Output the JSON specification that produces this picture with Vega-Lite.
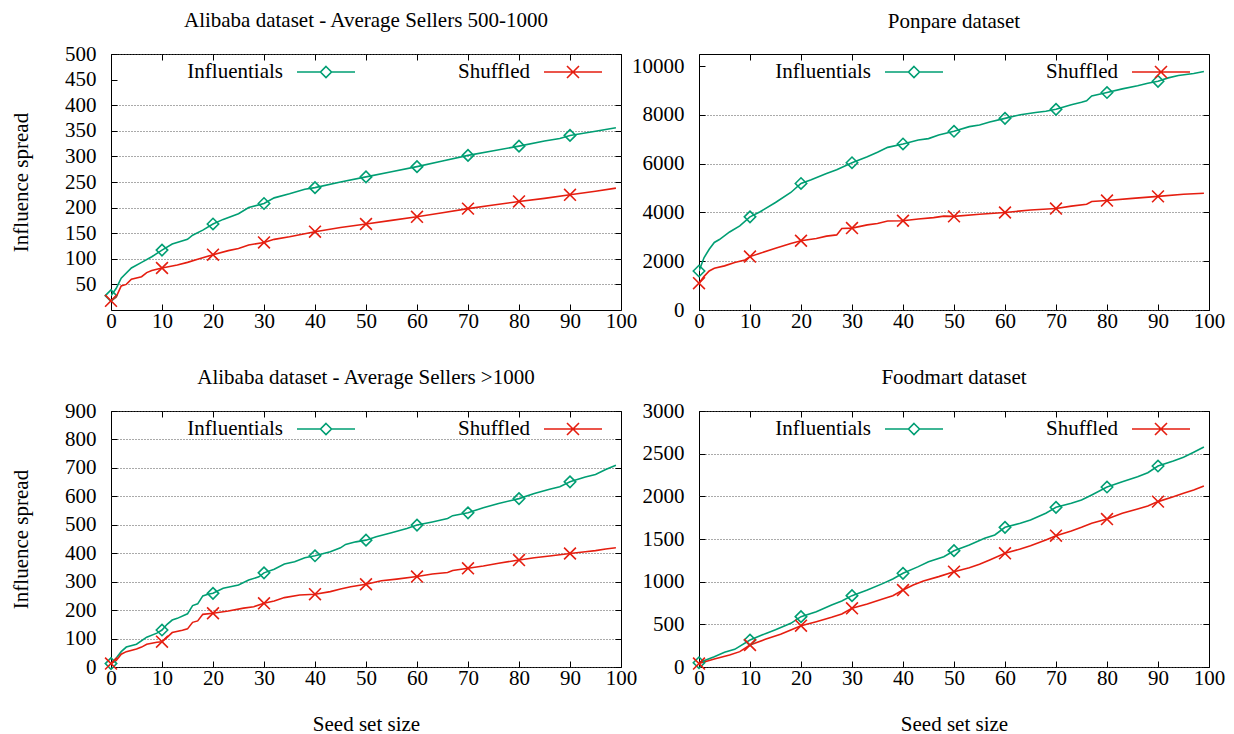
{
  "$schema": "https://vega.github.io/schema/vega-lite/v6.json",
  "padding": {"left": 10, "top": 9, "right": 5, "bottom": 2},
  "config": {
    "font": "Liberation Serif",
    "numberFormat": "d",
    "background": "white",
    "view": {"stroke": "black", "strokeWidth": 1},
    "title": {"font": "Liberation Serif", "fontSize": 21, "fontWeight": "normal", "color": "black", "anchor": "middle", "offset": 12},
    "axis": {"labelFont": "Liberation Serif", "labelFontSize": 21, "labelColor": "black", "titleFont": "Liberation Serif", "titleFontSize": 21, "titleFontWeight": "normal", "titleColor": "black", "domain": false, "tickColor": "black", "tickSize": -6, "tickWidth": 1, "gridColor": "#555555", "gridDash": [1, 2], "gridWidth": 1, "labelOverlap": false},
    "axisX": {"labelPadding": 6, "titlePadding": 25, "labelFlush": false, "grid": false},
    "axisY": {"labelPadding": 21, "titlePadding": 33},
    "legend": {"labelFont": "Liberation Serif", "labelFontSize": 21, "labelColor": "black", "symbolSize": 400, "symbolStrokeWidth": 1.6, "direction": "horizontal", "orient": "none", "legendX": 204, "legendY": 7, "labelAlign": "right", "labelOffset": -54, "columnPadding": 99, "padding": 0, "labelLimit": 300}
  },
  "datasets": {
    "A": [
      {"s": "Influentials", "x": 0, "y": 28}, {"s": "Influentials", "x": 1, "y": 42}, {"s": "Influentials", "x": 2, "y": 62}, {"s": "Influentials", "x": 4, "y": 82}, {"s": "Influentials", "x": 6, "y": 93}, {"s": "Influentials", "x": 8, "y": 104}, {"s": "Influentials", "x": 10, "y": 117}, {"s": "Influentials", "x": 12, "y": 129}, {"s": "Influentials", "x": 15, "y": 138}, {"s": "Influentials", "x": 16, "y": 146}, {"s": "Influentials", "x": 18, "y": 156}, {"s": "Influentials", "x": 20, "y": 168}, {"s": "Influentials", "x": 22, "y": 177}, {"s": "Influentials", "x": 25, "y": 188}, {"s": "Influentials", "x": 27, "y": 200}, {"s": "Influentials", "x": 30, "y": 208}, {"s": "Influentials", "x": 32, "y": 219}, {"s": "Influentials", "x": 35, "y": 227}, {"s": "Influentials", "x": 38, "y": 236}, {"s": "Influentials", "x": 40, "y": 239}, {"s": "Influentials", "x": 45, "y": 250}, {"s": "Influentials", "x": 50, "y": 260}, {"s": "Influentials", "x": 55, "y": 270}, {"s": "Influentials", "x": 60, "y": 280}, {"s": "Influentials", "x": 65, "y": 291}, {"s": "Influentials", "x": 70, "y": 302}, {"s": "Influentials", "x": 75, "y": 311}, {"s": "Influentials", "x": 80, "y": 320}, {"s": "Influentials", "x": 85, "y": 330}, {"s": "Influentials", "x": 88, "y": 335}, {"s": "Influentials", "x": 90, "y": 341}, {"s": "Influentials", "x": 95, "y": 349}, {"s": "Influentials", "x": 99, "y": 356},
      {"s": "Shuffled", "x": 0, "y": 18}, {"s": "Shuffled", "x": 1, "y": 25}, {"s": "Shuffled", "x": 2, "y": 47}, {"s": "Shuffled", "x": 3, "y": 50}, {"s": "Shuffled", "x": 4, "y": 60}, {"s": "Shuffled", "x": 6, "y": 65}, {"s": "Shuffled", "x": 7, "y": 73}, {"s": "Shuffled", "x": 8, "y": 77}, {"s": "Shuffled", "x": 10, "y": 82}, {"s": "Shuffled", "x": 13, "y": 88}, {"s": "Shuffled", "x": 15, "y": 93}, {"s": "Shuffled", "x": 17, "y": 99}, {"s": "Shuffled", "x": 20, "y": 108}, {"s": "Shuffled", "x": 23, "y": 116}, {"s": "Shuffled", "x": 25, "y": 120}, {"s": "Shuffled", "x": 27, "y": 127}, {"s": "Shuffled", "x": 30, "y": 132}, {"s": "Shuffled", "x": 32, "y": 138}, {"s": "Shuffled", "x": 35, "y": 143}, {"s": "Shuffled", "x": 38, "y": 149}, {"s": "Shuffled", "x": 40, "y": 153}, {"s": "Shuffled", "x": 45, "y": 161}, {"s": "Shuffled", "x": 50, "y": 168}, {"s": "Shuffled", "x": 55, "y": 175}, {"s": "Shuffled", "x": 60, "y": 182}, {"s": "Shuffled", "x": 65, "y": 190}, {"s": "Shuffled", "x": 70, "y": 198}, {"s": "Shuffled", "x": 75, "y": 205}, {"s": "Shuffled", "x": 80, "y": 212}, {"s": "Shuffled", "x": 85, "y": 218}, {"s": "Shuffled", "x": 90, "y": 225}, {"s": "Shuffled", "x": 95, "y": 232}, {"s": "Shuffled", "x": 99, "y": 238}
    ],
    "B": [
      {"s": "Influentials", "x": 0, "y": 1600}, {"s": "Influentials", "x": 1, "y": 2150}, {"s": "Influentials", "x": 2, "y": 2490}, {"s": "Influentials", "x": 3, "y": 2770}, {"s": "Influentials", "x": 4, "y": 2890}, {"s": "Influentials", "x": 6, "y": 3200}, {"s": "Influentials", "x": 8, "y": 3450}, {"s": "Influentials", "x": 10, "y": 3820}, {"s": "Influentials", "x": 12, "y": 4030}, {"s": "Influentials", "x": 15, "y": 4410}, {"s": "Influentials", "x": 18, "y": 4820}, {"s": "Influentials", "x": 20, "y": 5190}, {"s": "Influentials", "x": 22, "y": 5340}, {"s": "Influentials", "x": 25, "y": 5600}, {"s": "Influentials", "x": 27, "y": 5750}, {"s": "Influentials", "x": 30, "y": 6040}, {"s": "Influentials", "x": 33, "y": 6290}, {"s": "Influentials", "x": 35, "y": 6470}, {"s": "Influentials", "x": 37, "y": 6670}, {"s": "Influentials", "x": 40, "y": 6810}, {"s": "Influentials", "x": 43, "y": 6970}, {"s": "Influentials", "x": 45, "y": 7030}, {"s": "Influentials", "x": 47, "y": 7180}, {"s": "Influentials", "x": 50, "y": 7330}, {"s": "Influentials", "x": 53, "y": 7520}, {"s": "Influentials", "x": 55, "y": 7590}, {"s": "Influentials", "x": 57, "y": 7710}, {"s": "Influentials", "x": 60, "y": 7860}, {"s": "Influentials", "x": 63, "y": 8010}, {"s": "Influentials", "x": 66, "y": 8100}, {"s": "Influentials", "x": 68, "y": 8150}, {"s": "Influentials", "x": 70, "y": 8230}, {"s": "Influentials", "x": 73, "y": 8420}, {"s": "Influentials", "x": 75, "y": 8520}, {"s": "Influentials", "x": 76, "y": 8580}, {"s": "Influentials", "x": 77, "y": 8780}, {"s": "Influentials", "x": 80, "y": 8920}, {"s": "Influentials", "x": 83, "y": 9070}, {"s": "Influentials", "x": 86, "y": 9200}, {"s": "Influentials", "x": 88, "y": 9300}, {"s": "Influentials", "x": 90, "y": 9380}, {"s": "Influentials", "x": 92, "y": 9520}, {"s": "Influentials", "x": 94, "y": 9620}, {"s": "Influentials", "x": 97, "y": 9700}, {"s": "Influentials", "x": 99, "y": 9780},
      {"s": "Shuffled", "x": 0, "y": 1100}, {"s": "Shuffled", "x": 1, "y": 1380}, {"s": "Shuffled", "x": 2, "y": 1600}, {"s": "Shuffled", "x": 3, "y": 1710}, {"s": "Shuffled", "x": 5, "y": 1810}, {"s": "Shuffled", "x": 7, "y": 1950}, {"s": "Shuffled", "x": 9, "y": 2050}, {"s": "Shuffled", "x": 10, "y": 2190}, {"s": "Shuffled", "x": 12, "y": 2330}, {"s": "Shuffled", "x": 15, "y": 2530}, {"s": "Shuffled", "x": 18, "y": 2730}, {"s": "Shuffled", "x": 20, "y": 2840}, {"s": "Shuffled", "x": 23, "y": 2930}, {"s": "Shuffled", "x": 25, "y": 3030}, {"s": "Shuffled", "x": 27, "y": 3080}, {"s": "Shuffled", "x": 28, "y": 3340}, {"s": "Shuffled", "x": 30, "y": 3360}, {"s": "Shuffled", "x": 33, "y": 3490}, {"s": "Shuffled", "x": 35, "y": 3550}, {"s": "Shuffled", "x": 37, "y": 3650}, {"s": "Shuffled", "x": 40, "y": 3660}, {"s": "Shuffled", "x": 43, "y": 3730}, {"s": "Shuffled", "x": 46, "y": 3790}, {"s": "Shuffled", "x": 48, "y": 3850}, {"s": "Shuffled", "x": 50, "y": 3840}, {"s": "Shuffled", "x": 55, "y": 3930}, {"s": "Shuffled", "x": 60, "y": 4000}, {"s": "Shuffled", "x": 65, "y": 4100}, {"s": "Shuffled", "x": 70, "y": 4160}, {"s": "Shuffled", "x": 73, "y": 4260}, {"s": "Shuffled", "x": 76, "y": 4340}, {"s": "Shuffled", "x": 77, "y": 4450}, {"s": "Shuffled", "x": 80, "y": 4490}, {"s": "Shuffled", "x": 85, "y": 4580}, {"s": "Shuffled", "x": 90, "y": 4660}, {"s": "Shuffled", "x": 95, "y": 4750}, {"s": "Shuffled", "x": 99, "y": 4790}
    ],
    "C": [
      {"s": "Influentials", "x": 0, "y": 12}, {"s": "Influentials", "x": 1, "y": 31}, {"s": "Influentials", "x": 2, "y": 54}, {"s": "Influentials", "x": 3, "y": 70}, {"s": "Influentials", "x": 5, "y": 80}, {"s": "Influentials", "x": 7, "y": 105}, {"s": "Influentials", "x": 9, "y": 119}, {"s": "Influentials", "x": 10, "y": 130}, {"s": "Influentials", "x": 11, "y": 150}, {"s": "Influentials", "x": 12, "y": 165}, {"s": "Influentials", "x": 13, "y": 171}, {"s": "Influentials", "x": 15, "y": 187}, {"s": "Influentials", "x": 16, "y": 216}, {"s": "Influentials", "x": 17, "y": 222}, {"s": "Influentials", "x": 18, "y": 250}, {"s": "Influentials", "x": 19, "y": 256}, {"s": "Influentials", "x": 20, "y": 259}, {"s": "Influentials", "x": 22, "y": 277}, {"s": "Influentials", "x": 25, "y": 288}, {"s": "Influentials", "x": 27, "y": 306}, {"s": "Influentials", "x": 29, "y": 317}, {"s": "Influentials", "x": 30, "y": 331}, {"s": "Influentials", "x": 32, "y": 344}, {"s": "Influentials", "x": 34, "y": 362}, {"s": "Influentials", "x": 36, "y": 370}, {"s": "Influentials", "x": 38, "y": 384}, {"s": "Influentials", "x": 40, "y": 391}, {"s": "Influentials", "x": 43, "y": 405}, {"s": "Influentials", "x": 45, "y": 419}, {"s": "Influentials", "x": 46, "y": 431}, {"s": "Influentials", "x": 48, "y": 440}, {"s": "Influentials", "x": 50, "y": 446}, {"s": "Influentials", "x": 52, "y": 458}, {"s": "Influentials", "x": 55, "y": 472}, {"s": "Influentials", "x": 58, "y": 487}, {"s": "Influentials", "x": 60, "y": 499}, {"s": "Influentials", "x": 63, "y": 510}, {"s": "Influentials", "x": 66, "y": 522}, {"s": "Influentials", "x": 67, "y": 532}, {"s": "Influentials", "x": 70, "y": 542}, {"s": "Influentials", "x": 73, "y": 560}, {"s": "Influentials", "x": 76, "y": 575}, {"s": "Influentials", "x": 80, "y": 592}, {"s": "Influentials", "x": 83, "y": 610}, {"s": "Influentials", "x": 86, "y": 625}, {"s": "Influentials", "x": 88, "y": 634}, {"s": "Influentials", "x": 90, "y": 651}, {"s": "Influentials", "x": 93, "y": 668}, {"s": "Influentials", "x": 95, "y": 677}, {"s": "Influentials", "x": 97, "y": 694}, {"s": "Influentials", "x": 99, "y": 709},
      {"s": "Shuffled", "x": 0, "y": 12}, {"s": "Shuffled", "x": 1, "y": 22}, {"s": "Shuffled", "x": 2, "y": 45}, {"s": "Shuffled", "x": 3, "y": 54}, {"s": "Shuffled", "x": 5, "y": 63}, {"s": "Shuffled", "x": 6, "y": 70}, {"s": "Shuffled", "x": 7, "y": 80}, {"s": "Shuffled", "x": 9, "y": 87}, {"s": "Shuffled", "x": 10, "y": 89}, {"s": "Shuffled", "x": 11, "y": 104}, {"s": "Shuffled", "x": 12, "y": 121}, {"s": "Shuffled", "x": 14, "y": 129}, {"s": "Shuffled", "x": 15, "y": 134}, {"s": "Shuffled", "x": 16, "y": 157}, {"s": "Shuffled", "x": 17, "y": 162}, {"s": "Shuffled", "x": 18, "y": 185}, {"s": "Shuffled", "x": 20, "y": 189}, {"s": "Shuffled", "x": 23, "y": 197}, {"s": "Shuffled", "x": 26, "y": 207}, {"s": "Shuffled", "x": 28, "y": 212}, {"s": "Shuffled", "x": 30, "y": 224}, {"s": "Shuffled", "x": 32, "y": 232}, {"s": "Shuffled", "x": 34, "y": 244}, {"s": "Shuffled", "x": 37, "y": 253}, {"s": "Shuffled", "x": 40, "y": 256}, {"s": "Shuffled", "x": 43, "y": 265}, {"s": "Shuffled", "x": 45, "y": 274}, {"s": "Shuffled", "x": 47, "y": 282}, {"s": "Shuffled", "x": 50, "y": 291}, {"s": "Shuffled", "x": 53, "y": 303}, {"s": "Shuffled", "x": 56, "y": 309}, {"s": "Shuffled", "x": 60, "y": 318}, {"s": "Shuffled", "x": 63, "y": 327}, {"s": "Shuffled", "x": 66, "y": 332}, {"s": "Shuffled", "x": 67, "y": 339}, {"s": "Shuffled", "x": 70, "y": 347}, {"s": "Shuffled", "x": 73, "y": 355}, {"s": "Shuffled", "x": 76, "y": 365}, {"s": "Shuffled", "x": 80, "y": 376}, {"s": "Shuffled", "x": 83, "y": 384}, {"s": "Shuffled", "x": 86, "y": 390}, {"s": "Shuffled", "x": 90, "y": 399}, {"s": "Shuffled", "x": 93, "y": 405}, {"s": "Shuffled", "x": 95, "y": 409}, {"s": "Shuffled", "x": 97, "y": 415}, {"s": "Shuffled", "x": 99, "y": 419}
    ],
    "D": [
      {"s": "Influentials", "x": 0, "y": 50}, {"s": "Influentials", "x": 3, "y": 121}, {"s": "Influentials", "x": 5, "y": 172}, {"s": "Influentials", "x": 7, "y": 207}, {"s": "Influentials", "x": 10, "y": 316}, {"s": "Influentials", "x": 13, "y": 391}, {"s": "Influentials", "x": 15, "y": 437}, {"s": "Influentials", "x": 18, "y": 512}, {"s": "Influentials", "x": 20, "y": 590}, {"s": "Influentials", "x": 23, "y": 648}, {"s": "Influentials", "x": 26, "y": 727}, {"s": "Influentials", "x": 28, "y": 773}, {"s": "Influentials", "x": 30, "y": 836}, {"s": "Influentials", "x": 33, "y": 902}, {"s": "Influentials", "x": 36, "y": 977}, {"s": "Influentials", "x": 38, "y": 1031}, {"s": "Influentials", "x": 40, "y": 1098}, {"s": "Influentials", "x": 43, "y": 1176}, {"s": "Influentials", "x": 45, "y": 1234}, {"s": "Influentials", "x": 48, "y": 1293}, {"s": "Influentials", "x": 50, "y": 1363}, {"s": "Influentials", "x": 53, "y": 1430}, {"s": "Influentials", "x": 56, "y": 1508}, {"s": "Influentials", "x": 58, "y": 1547}, {"s": "Influentials", "x": 60, "y": 1637}, {"s": "Influentials", "x": 63, "y": 1684}, {"s": "Influentials", "x": 65, "y": 1723}, {"s": "Influentials", "x": 68, "y": 1801}, {"s": "Influentials", "x": 70, "y": 1871}, {"s": "Influentials", "x": 73, "y": 1918}, {"s": "Influentials", "x": 75, "y": 1957}, {"s": "Influentials", "x": 77, "y": 2016}, {"s": "Influentials", "x": 80, "y": 2109}, {"s": "Influentials", "x": 83, "y": 2172}, {"s": "Influentials", "x": 86, "y": 2230}, {"s": "Influentials", "x": 88, "y": 2277}, {"s": "Influentials", "x": 90, "y": 2355}, {"s": "Influentials", "x": 93, "y": 2414}, {"s": "Influentials", "x": 95, "y": 2457}, {"s": "Influentials", "x": 97, "y": 2516}, {"s": "Influentials", "x": 99, "y": 2578},
      {"s": "Shuffled", "x": 0, "y": 40}, {"s": "Shuffled", "x": 3, "y": 94}, {"s": "Shuffled", "x": 6, "y": 141}, {"s": "Shuffled", "x": 8, "y": 180}, {"s": "Shuffled", "x": 10, "y": 258}, {"s": "Shuffled", "x": 13, "y": 324}, {"s": "Shuffled", "x": 16, "y": 383}, {"s": "Shuffled", "x": 18, "y": 434}, {"s": "Shuffled", "x": 20, "y": 484}, {"s": "Shuffled", "x": 23, "y": 531}, {"s": "Shuffled", "x": 26, "y": 582}, {"s": "Shuffled", "x": 28, "y": 621}, {"s": "Shuffled", "x": 30, "y": 688}, {"s": "Shuffled", "x": 33, "y": 738}, {"s": "Shuffled", "x": 36, "y": 797}, {"s": "Shuffled", "x": 38, "y": 836}, {"s": "Shuffled", "x": 40, "y": 902}, {"s": "Shuffled", "x": 42, "y": 961}, {"s": "Shuffled", "x": 44, "y": 1008}, {"s": "Shuffled", "x": 47, "y": 1059}, {"s": "Shuffled", "x": 50, "y": 1117}, {"s": "Shuffled", "x": 53, "y": 1164}, {"s": "Shuffled", "x": 55, "y": 1203}, {"s": "Shuffled", "x": 57, "y": 1254}, {"s": "Shuffled", "x": 60, "y": 1332}, {"s": "Shuffled", "x": 63, "y": 1383}, {"s": "Shuffled", "x": 65, "y": 1422}, {"s": "Shuffled", "x": 68, "y": 1488}, {"s": "Shuffled", "x": 70, "y": 1539}, {"s": "Shuffled", "x": 73, "y": 1594}, {"s": "Shuffled", "x": 75, "y": 1637}, {"s": "Shuffled", "x": 77, "y": 1684}, {"s": "Shuffled", "x": 80, "y": 1734}, {"s": "Shuffled", "x": 83, "y": 1801}, {"s": "Shuffled", "x": 86, "y": 1852}, {"s": "Shuffled", "x": 88, "y": 1887}, {"s": "Shuffled", "x": 90, "y": 1938}, {"s": "Shuffled", "x": 93, "y": 1996}, {"s": "Shuffled", "x": 95, "y": 2035}, {"s": "Shuffled", "x": 97, "y": 2074}, {"s": "Shuffled", "x": 99, "y": 2121}
    ]
  },
  "columns": 2,
  "bounds": "flush",
  "spacing": {"row": 101, "column": 78},
  "resolve": {"scale": {"color": "independent"}, "legend": {"color": "independent"}},
  "concat": [
    {
      "width": 510, "height": 256,
      "title": "Alibaba dataset - Average Sellers 500-1000",
      "data": {"name": "A"},
      "resolve": {"axis": {"x": "independent", "y": "independent"}},
      "layer": [
        {"mark": {"type": "line", "strokeWidth": 1.6, "clip": true},
         "encoding": {
           "x": {"field": "x", "type": "quantitative", "scale": {"domain": [0, 100], "nice": false}, "axis": {"values": [0, 10, 20, 30, 40, 50, 60, 70, 80, 90, 100], "title": null}},
           "y": {"field": "y", "type": "quantitative", "scale": {"domain": [0, 500], "nice": false}, "axis": {"values": [50, 100, 150, 200, 250, 300, 350, 400, 450, 500], "title": "Influence spread", "grid": false}},
           "color": {"field": "s", "type": "nominal", "scale": {"domain": ["Influentials", "Shuffled"], "range": ["#009e73", "#e51e10"]},
             "legend": {"title": null, "encode": {"symbols": {"update": {"fill": {"value": "transparent"}, "shape": {"signal": "datum.value === 'Influentials' ? 'M-2.9,0H-0.55M0.55,0H2.9M0,-0.55L0.55,0L0,0.55L-0.55,0Z' : 'M-2.9,0H2.9M-0.6,-0.6L0.6,0.6M-0.6,0.6L0.6,-0.6'"}}}}}}
         }},
        {"transform": [{"filter": "datum.s === 'Influentials' && datum.x % 10 === 0"}],
         "mark": {"type": "point", "filled": false, "strokeWidth": 1.6, "size": 130, "opacity": 1, "shape": "diamond", "color": "#009e73"},
         "encoding": {"x": {"field": "x", "type": "quantitative", "axis": null}, "y": {"field": "y", "type": "quantitative", "axis": null}}},
        {"transform": [{"filter": "datum.s === 'Shuffled' && datum.x % 10 === 0"}],
         "mark": {"type": "point", "filled": false, "strokeWidth": 1.6, "size": 140, "opacity": 1, "shape": "M-1,-1L1,1M-1,1L1,-1", "color": "#e51e10"},
         "encoding": {"x": {"field": "x", "type": "quantitative", "axis": null}, "y": {"field": "y", "type": "quantitative", "axis": null}}},
        {"mark": {"type": "point", "opacity": 0},
         "encoding": {
           "x": {"field": "x", "type": "quantitative", "axis": {"orient": "top", "labels": false, "title": null, "grid": false, "values": [0, 10, 20, 30, 40, 50, 60, 70, 80, 90, 100]}},
           "y": {"field": "y", "type": "quantitative", "axis": {"orient": "right", "labels": false, "title": null, "grid": true, "values": [50, 100, 150, 200, 250, 300, 350, 400, 500]}}
         }}
      ]
    },
    {
      "width": 510, "height": 256,
      "title": {"text": "Ponpare dataset", "offset": 22},
      "data": {"name": "B"},
      "resolve": {"axis": {"x": "independent", "y": "independent"}},
      "layer": [
        {"mark": {"type": "line", "strokeWidth": 1.6, "clip": true},
         "encoding": {
           "x": {"field": "x", "type": "quantitative", "scale": {"domain": [0, 100], "nice": false}, "axis": {"values": [0, 10, 20, 30, 40, 50, 60, 70, 80, 90, 100], "title": null}},
           "y": {"field": "y", "type": "quantitative", "scale": {"domain": [0, 10500], "nice": false}, "axis": {"values": [0, 2000, 4000, 6000, 8000, 10000], "title": null, "grid": false}},
           "color": {"field": "s", "type": "nominal", "scale": {"domain": ["Influentials", "Shuffled"], "range": ["#009e73", "#e51e10"]},
             "legend": {"title": null, "encode": {"symbols": {"update": {"fill": {"value": "transparent"}, "shape": {"signal": "datum.value === 'Influentials' ? 'M-2.9,0H-0.55M0.55,0H2.9M0,-0.55L0.55,0L0,0.55L-0.55,0Z' : 'M-2.9,0H2.9M-0.6,-0.6L0.6,0.6M-0.6,0.6L0.6,-0.6'"}}}}}}
         }},
        {"transform": [{"filter": "datum.s === 'Influentials' && datum.x % 10 === 0"}],
         "mark": {"type": "point", "filled": false, "strokeWidth": 1.6, "size": 130, "opacity": 1, "shape": "diamond", "color": "#009e73"},
         "encoding": {"x": {"field": "x", "type": "quantitative", "axis": null}, "y": {"field": "y", "type": "quantitative", "axis": null}}},
        {"transform": [{"filter": "datum.s === 'Shuffled' && datum.x % 10 === 0"}],
         "mark": {"type": "point", "filled": false, "strokeWidth": 1.6, "size": 140, "opacity": 1, "shape": "M-1,-1L1,1M-1,1L1,-1", "color": "#e51e10"},
         "encoding": {"x": {"field": "x", "type": "quantitative", "axis": null}, "y": {"field": "y", "type": "quantitative", "axis": null}}},
        {"mark": {"type": "point", "opacity": 0},
         "encoding": {
           "x": {"field": "x", "type": "quantitative", "axis": {"orient": "top", "labels": false, "title": null, "grid": false, "values": [0, 10, 20, 30, 40, 50, 60, 70, 80, 90, 100]}},
           "y": {"field": "y", "type": "quantitative", "axis": {"orient": "right", "labels": false, "title": null, "grid": true, "values": [0, 2000, 4000, 6000, 8000]}}
         }}
      ]
    },
    {
      "width": 510, "height": 256,
      "title": "Alibaba dataset - Average Sellers >1000",
      "data": {"name": "C"},
      "resolve": {"axis": {"x": "independent", "y": "independent"}},
      "layer": [
        {"mark": {"type": "line", "strokeWidth": 1.6, "clip": true},
         "encoding": {
           "x": {"field": "x", "type": "quantitative", "scale": {"domain": [0, 100], "nice": false}, "axis": {"values": [0, 10, 20, 30, 40, 50, 60, 70, 80, 90, 100], "title": "Seed set size"}},
           "y": {"field": "y", "type": "quantitative", "scale": {"domain": [0, 900], "nice": false}, "axis": {"values": [0, 100, 200, 300, 400, 500, 600, 700, 800, 900], "title": "Influence spread", "grid": true}},
           "color": {"field": "s", "type": "nominal", "scale": {"domain": ["Influentials", "Shuffled"], "range": ["#009e73", "#e51e10"]},
             "legend": {"title": null, "encode": {"symbols": {"update": {"fill": {"value": "transparent"}, "shape": {"signal": "datum.value === 'Influentials' ? 'M-2.9,0H-0.55M0.55,0H2.9M0,-0.55L0.55,0L0,0.55L-0.55,0Z' : 'M-2.9,0H2.9M-0.6,-0.6L0.6,0.6M-0.6,0.6L0.6,-0.6'"}}}}}}
         }},
        {"transform": [{"filter": "datum.s === 'Influentials' && datum.x % 10 === 0"}],
         "mark": {"type": "point", "filled": false, "strokeWidth": 1.6, "size": 130, "opacity": 1, "shape": "diamond", "color": "#009e73"},
         "encoding": {"x": {"field": "x", "type": "quantitative", "axis": null}, "y": {"field": "y", "type": "quantitative", "axis": null}}},
        {"transform": [{"filter": "datum.s === 'Shuffled' && datum.x % 10 === 0"}],
         "mark": {"type": "point", "filled": false, "strokeWidth": 1.6, "size": 140, "opacity": 1, "shape": "M-1,-1L1,1M-1,1L1,-1", "color": "#e51e10"},
         "encoding": {"x": {"field": "x", "type": "quantitative", "axis": null}, "y": {"field": "y", "type": "quantitative", "axis": null}}},
        {"mark": {"type": "point", "opacity": 0},
         "encoding": {
           "x": {"field": "x", "type": "quantitative", "axis": {"orient": "top", "labels": false, "title": null, "grid": false, "values": [0, 10, 20, 30, 40, 50, 60, 70, 80, 90, 100]}},
           "y": {"field": "y", "type": "quantitative", "axis": {"orient": "right", "labels": false, "title": null, "grid": false, "values": [0, 100, 200, 300, 400, 500, 600, 700, 800, 900]}}
         }}
      ]
    },
    {
      "width": 510, "height": 256,
      "title": "Foodmart dataset",
      "data": {"name": "D"},
      "resolve": {"axis": {"x": "independent", "y": "independent"}},
      "layer": [
        {"mark": {"type": "line", "strokeWidth": 1.6, "clip": true},
         "encoding": {
           "x": {"field": "x", "type": "quantitative", "scale": {"domain": [0, 100], "nice": false}, "axis": {"values": [0, 10, 20, 30, 40, 50, 60, 70, 80, 90, 100], "title": "Seed set size"}},
           "y": {"field": "y", "type": "quantitative", "scale": {"domain": [0, 3000], "nice": false}, "axis": {"values": [0, 500, 1000, 1500, 2000, 2500, 3000], "title": null, "grid": true}},
           "color": {"field": "s", "type": "nominal", "scale": {"domain": ["Influentials", "Shuffled"], "range": ["#009e73", "#e51e10"]},
             "legend": {"title": null, "encode": {"symbols": {"update": {"fill": {"value": "transparent"}, "shape": {"signal": "datum.value === 'Influentials' ? 'M-2.9,0H-0.55M0.55,0H2.9M0,-0.55L0.55,0L0,0.55L-0.55,0Z' : 'M-2.9,0H2.9M-0.6,-0.6L0.6,0.6M-0.6,0.6L0.6,-0.6'"}}}}}}
         }},
        {"transform": [{"filter": "datum.s === 'Influentials' && datum.x % 10 === 0"}],
         "mark": {"type": "point", "filled": false, "strokeWidth": 1.6, "size": 130, "opacity": 1, "shape": "diamond", "color": "#009e73"},
         "encoding": {"x": {"field": "x", "type": "quantitative", "axis": null}, "y": {"field": "y", "type": "quantitative", "axis": null}}},
        {"transform": [{"filter": "datum.s === 'Shuffled' && datum.x % 10 === 0"}],
         "mark": {"type": "point", "filled": false, "strokeWidth": 1.6, "size": 140, "opacity": 1, "shape": "M-1,-1L1,1M-1,1L1,-1", "color": "#e51e10"},
         "encoding": {"x": {"field": "x", "type": "quantitative", "axis": null}, "y": {"field": "y", "type": "quantitative", "axis": null}}},
        {"mark": {"type": "point", "opacity": 0},
         "encoding": {
           "x": {"field": "x", "type": "quantitative", "axis": {"orient": "top", "labels": false, "title": null, "grid": false, "values": [0, 10, 20, 30, 40, 50, 60, 70, 80, 90, 100]}},
           "y": {"field": "y", "type": "quantitative", "axis": {"orient": "right", "labels": false, "title": null, "grid": false, "values": [0, 500, 1000, 1500, 2000, 2500, 3000]}}
         }}
      ]
    }
  ]
}
